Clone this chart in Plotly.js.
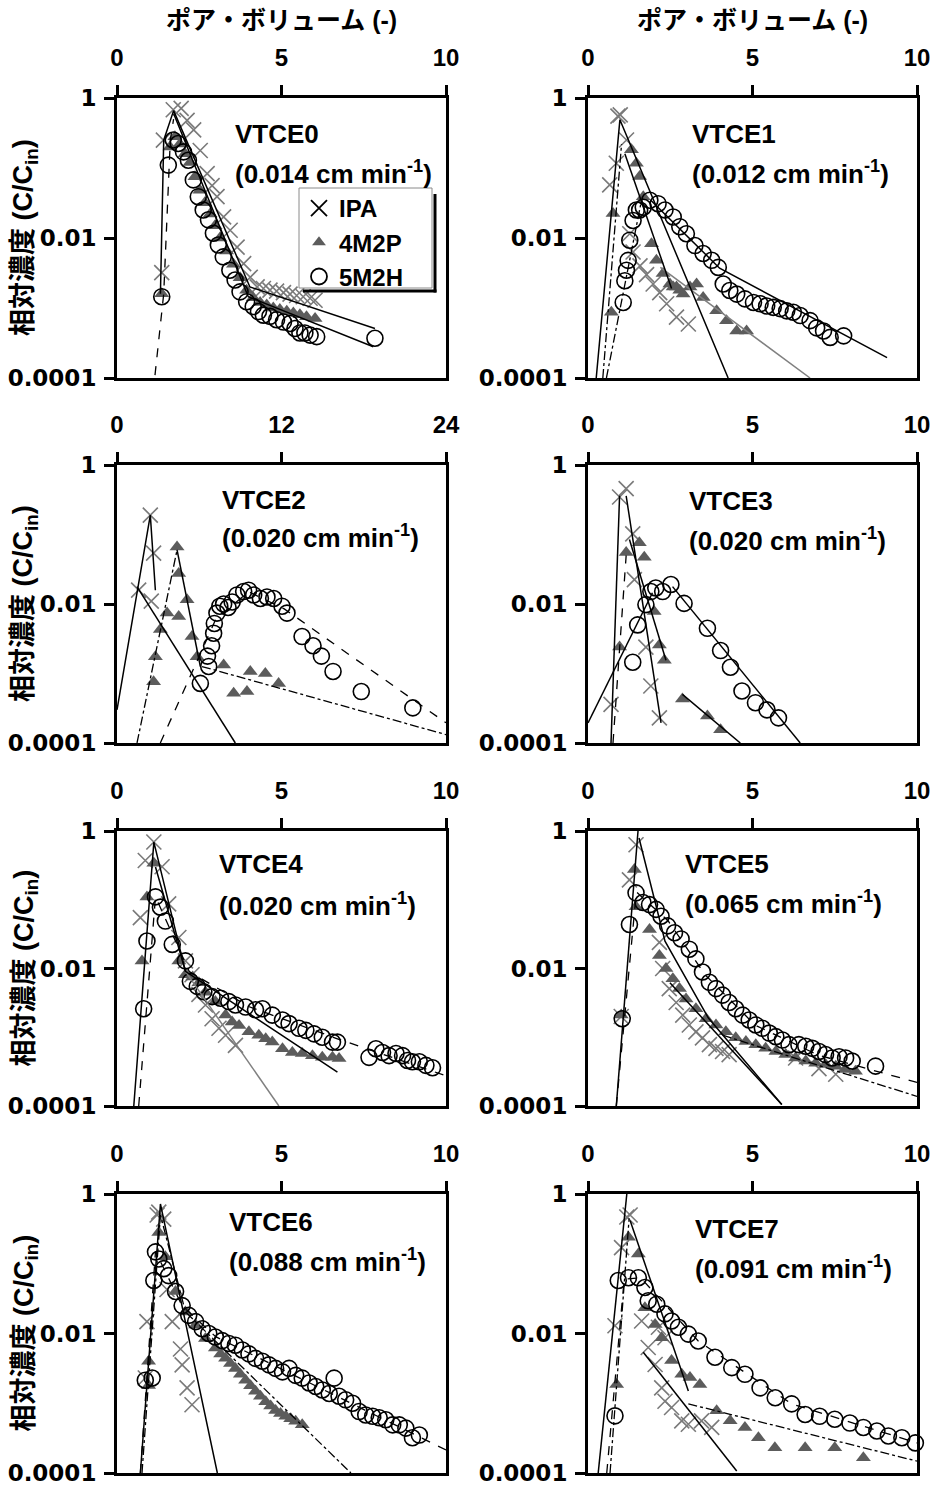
<!DOCTYPE html>
<html><head><meta charset="utf-8">
<script src="https://cdn.plot.ly/plotly-3.0.1.min.js"></script>
<style>html,body{margin:0;padding:0;background:#fff}#chart{width:937px;height:1488px}</style>
</head><body><div id="chart"></div>
<script>
// ---------------- DATA ----------------
const SERIES_NAMES = ['IPA', '4M2P', '5M2H'];
const PANEL_NAMES = ['VTCE0','VTCE1','VTCE2','VTCE3','VTCE4','VTCE5','VTCE6','VTCE7'];
const PANEL_SPEEDS = ['0.014','0.012','0.020','0.020','0.020','0.065','0.088','0.091'];
const PANEL_XMAX = [10, 10, 24, 10, 10, 10, 10, 10];
const PANEL_XTICKS = [[0,5,10],[0,5,10],[0,12,24],[0,5,10],[0,5,10],[0,5,10],[0,5,10],[0,5,10]];
const Y_TICKVALS = [1, 0.01, 0.0001];
const Y_TICKTEXT = ['1', '0.01', '0.0001'];
const X_TITLE = 'ポア・ボリューム (-)';
const Y_TITLE = '相対濃度 (C/C<sub>in</sub>)';

// VTCE0
const P0_IPA_X = [1.36,1.41,1.71,1.95,2.13,2.33,2.53,2.74,2.89,3.04,3.24,3.44,3.65,3.85,4.05,4.26,4.45,4.65,4.85,5.06,5.26,5.46,5.66,5.87,6.02];
const P0_IPA_Y = [0.0032,0.25,0.68,0.71,0.48,0.35,0.178,0.083,0.056,0.039,0.020,0.0129,0.0074,0.0043,0.00275,0.0020,0.0019,0.0018,0.00174,0.00166,0.00158,0.00151,0.00145,0.00138,0.00129];
const P0_M4_X = [1.36,1.61,1.76,1.91,2.07,2.22,2.37,2.52,2.67,2.83,2.98,3.13,3.33,3.54,3.74,3.94,4.14,4.35,4.55,4.75,4.95,5.16,5.36,5.56,5.76,6.02];
const P0_M4_Y = [0.0016,0.20,0.28,0.22,0.16,0.12,0.075,0.048,0.032,0.022,0.015,0.010,0.0065,0.0042,0.0027,0.0018,0.0014,0.0012,0.0011,0.0010,0.00095,0.0009,0.00085,0.0008,0.00075,0.00071];
const P0_M5_X = [1.36,1.56,1.71,1.86,2.02,2.17,2.32,2.47,2.62,2.78,2.93,3.08,3.23,3.43,3.59,3.74,3.94,4.14,4.30,4.45,4.65,4.85,5.06,5.26,5.41,5.56,5.71,5.87,6.07,7.84];
const P0_M5_Y = [0.00145,0.110,0.251,0.224,0.170,0.129,0.0676,0.0389,0.0251,0.0182,0.0117,0.00794,0.00537,0.00347,0.00251,0.00170,0.00123,0.00105,0.00089,0.00079,0.00076,0.00068,0.00063,0.00060,0.00051,0.00044,0.00044,0.00041,0.00039,0.00037];
const P0_SOLID_X = [1.32,1.42,1.72,4.04,7.84,null,1.72,3.99,7.79];
const P0_SOLID_Y = [0.0016,0.25,0.66,0.0020,0.00051,null,0.6,0.00145,0.00028];
const P0_DASH_X = [1.155,1.42,1.62,1.72];
const P0_DASH_Y = [0.00011,0.0016,0.25,0.5];
const P0_DASHDOT_X = [];
const P0_DASHDOT_Y = [];
const P0_GRAY_X = [];
const P0_GRAY_Y = [];

// VTCE1
const P1_IPA_X = [0.66,0.86,0.91,0.98,1.17,1.27,1.37,1.58,1.78,1.98,2.18,2.39,2.69,3.05];
const P1_IPA_Y = [0.0575,0.117,0.55,0.575,0.251,0.0115,0.0063,0.0040,0.0030,0.0022,0.00166,0.00115,0.00074,0.00059];
const P1_M4_X = [0.71,0.76,1.32,1.47,1.57,1.68,1.93,2.08,2.28,2.49,2.59,2.69,2.79,2.89,3.10,3.30,3.50,3.91,4.21,4.52,4.82];
const P1_M4_Y = [0.00087,0.0224,0.182,0.117,0.0759,0.0389,0.0083,0.0048,0.0031,0.0022,0.0020,0.0020,0.0018,0.00158,0.0020,0.0022,0.00141,0.00091,0.00066,0.00047,0.00047];
const P1_M5_X = [1.07,1.12,1.17,1.22,1.27,1.37,1.47,1.57,1.68,1.88,2.13,2.34,2.59,2.79,2.99,3.25,3.50,3.76,3.96,4.11,4.31,4.52,4.77,5.03,5.23,5.43,5.63,5.84,6.04,6.24,6.45,6.75,6.95,7.16,7.36,7.77];
const P1_M5_Y = [0.0012,0.00245,0.00347,0.00479,0.0093,0.0178,0.0251,0.0251,0.0275,0.0347,0.0309,0.0251,0.0200,0.0145,0.0115,0.0078,0.0060,0.0048,0.0038,0.0022,0.00178,0.00158,0.00135,0.0012,0.00115,0.00107,0.00102,0.00098,0.00091,0.00087,0.00078,0.00066,0.00052,0.00047,0.00038,0.00040];
const P1_SOLID_X = [0.25,0.97,4.26,null,1.12,2.54,null,1.9,4.0,9.09];
const P1_SOLID_Y = [0.0001,0.49,0.0001,null,0.16,0.0019,null,0.035,0.0037,0.000195];
const P1_DASH_X = [];
const P1_DASH_Y = [];
const P1_DASHDOT_X = [0.45,1.02,null,0.56,1.6];
const P1_DASHDOT_Y = [0.0001,0.22,null,0.0001,0.03];
const P1_GRAY_X = [2.2,6.75];
const P1_GRAY_Y = [0.0038,0.0001];

// VTCE2
const P2_IPA_X = [1.58,2.43,2.50,2.67];
const P2_IPA_Y = [0.0158,0.19,0.011,0.054];
const P2_M4_X = [2.67,2.80,3.16,3.65,4.38,4.50,4.50,5.11,5.47,5.84,7.78,8.51,9.48,9.72,10.82,11.79];
const P2_M4_Y = [0.00076,0.00174,0.0043,0.0074,0.066,0.0275,0.0066,0.0115,0.0034,0.00174,0.00132,0.00052,0.00055,0.00107,0.0010,0.00072];
const P2_M5_X = [6.08,6.60,6.69,6.90,7.05,7.10,7.29,7.50,7.78,8.10,8.40,8.75,9.24,9.60,9.97,10.46,10.94,11.43,12.04,12.40,13.50,14.30,14.91,15.76,17.82,21.58];
const P2_M5_Y = [0.00072,0.00178,0.00126,0.00251,0.0038,0.00525,0.0074,0.0093,0.0100,0.0089,0.0107,0.0135,0.0151,0.0158,0.0135,0.0120,0.0126,0.0120,0.0093,0.0074,0.0034,0.00251,0.00178,0.00107,0.00055,0.00032];
const P2_SOLID_X = [0,2.43,2.80,null,1.46,8.63,null,4.38,6.08];
const P2_SOLID_Y = [0.0003,0.19,0.0158,null,0.0178,0.0001,null,0.060,0.00126];
const P2_DASH_X = [3.16,7.2,9.6,12.2,24];
const P2_DASH_Y = [0.0001,0.006,0.015,0.0085,0.000195];
const P2_DASHDOT_X = [1.46,4.38,null,6.2,24];
const P2_DASHDOT_Y = [0.0001,0.060,null,0.00126,0.000132];
const P2_GRAY_X = [];
const P2_GRAY_Y = [];

// VTCE3
const P3_IPA_X = [0.70,0.96,1.16,1.36,1.41,1.76,1.91,2.17];
const P3_IPA_Y = [0.00036,0.347,0.457,0.102,0.0224,0.0024,0.00066,0.00023];
const P3_M4_X = [0.96,1.16,1.56,1.71,2.01,2.17,2.32,2.87,3.63,4.03];
const P3_M4_Y = [0.0024,0.055,0.076,0.047,0.0078,0.00257,0.00155,0.00043,0.000245,0.000155];
const P3_M5_X = [1.36,1.51,1.76,1.91,2.06,2.27,2.52,2.92,3.63,4.03,4.33,4.68,5.09,5.44,5.79];
const P3_M5_Y = [0.00145,0.0050,0.0098,0.0151,0.0170,0.0151,0.0191,0.0102,0.00447,0.00214,0.00123,0.00056,0.00038,0.0003,0.00023];
const P3_SOLID_X = [0.70,0.96,null,1.16,2.22,null,1.26,2.37,null,2.87,4.63,null,0,1.96,null,2.57,6.45];
const P3_SOLID_Y = [0.0001,0.36,null,0.36,0.000195,null,0.085,0.00155,null,0.0005,0.0001,null,0.000195,0.0145,null,0.0178,0.0001];
const P3_DASH_X = [0.76,1.16];
const P3_DASH_Y = [0.0001,0.05];
const P3_DASHDOT_X = [];
const P3_DASHDOT_Y = [];
const P3_GRAY_X = [];
const P3_GRAY_Y = [];

// VTCE4
const P4_IPA_X = [0.71,0.86,1.12,1.37,1.57,1.88,2.08,2.28,2.49,2.69,2.89,3.10,3.30,3.60];
const P4_IPA_Y = [0.055,0.372,0.692,0.302,0.087,0.0282,0.0129,0.0081,0.0042,0.00295,0.00186,0.00135,0.00107,0.00076];
const P4_M4_X = [0.76,0.91,1.12,1.88,2.08,2.30,2.49,2.69,2.99,3.30,3.50,3.71,4.01,4.31,4.52,4.72,5.03,5.33,5.63,5.94,6.24,6.55,6.75];
const P4_M4_Y = [0.0129,0.110,0.339,0.0129,0.0081,0.0075,0.0062,0.0045,0.0033,0.0021,0.00166,0.00148,0.0012,0.00107,0.00095,0.00085,0.00068,0.0006,0.00058,0.00054,0.00051,0.00051,0.00049];
const P4_M5_X = [0.81,0.91,1.17,1.32,1.47,1.68,2.08,2.23,2.44,2.64,2.89,3.15,3.40,3.60,3.91,4.21,4.42,4.72,5.03,5.23,5.53,5.74,5.99,6.24,6.55,6.70,7.66,7.87,8.07,8.27,8.48,8.68,8.83,8.98,9.19,9.39,9.59];
const P4_M5_Y = [0.0026,0.0251,0.110,0.078,0.049,0.0224,0.0129,0.0065,0.0055,0.0046,0.0039,0.0037,0.0033,0.00295,0.00275,0.00251,0.0026,0.0021,0.00178,0.00158,0.00135,0.00126,0.00112,0.0010,0.00085,0.00085,0.00051,0.00068,0.0006,0.00054,0.00058,0.00054,0.00046,0.00044,0.00044,0.00039,0.00036];
const P4_SOLID_X = [0.51,1.12,2.08,null,1.17,2.08,6.70];
const P4_SOLID_Y = [0.0001,0.69,0.0091,null,0.30,0.0091,0.00031];
const P4_DASH_X = [0.66,1.17,2.2,4.0,6.7,10];
const P4_DASH_Y = [0.0001,0.11,0.009,0.0028,0.00095,0.000275];
const P4_DASHDOT_X = [];
const P4_DASHDOT_Y = [];
const P4_GRAY_X = [2.08,4.92];
const P4_GRAY_Y = [0.0091,0.0001];

// VTCE5
const P5_IPA_X = [1.01,1.26,1.46,2.17,2.27,2.47,2.68,2.88,3.08,3.28,3.48,3.69,3.89,4.09,4.29,6.31,7.02,7.53];
const P5_IPA_Y = [0.0020,0.195,0.631,0.024,0.010,0.0051,0.0032,0.0021,0.00151,0.0012,0.00098,0.00078,0.00069,0.00062,0.00056,0.0005,0.00035,0.00029];
const P5_M4_X = [1.01,1.41,1.46,1.87,2.17,2.37,2.58,2.78,2.98,3.28,3.59,3.89,4.19,4.49,4.80,5.10,5.40,5.71,6.01,6.31,6.62,6.92,7.22,7.53,7.83,8.13];
const P5_M4_Y = [0.0021,0.275,0.079,0.037,0.0155,0.010,0.0071,0.0051,0.0036,0.0026,0.00186,0.00151,0.0012,0.00098,0.00087,0.00078,0.00069,0.00062,0.00056,0.0005,0.00045,0.00042,0.0004,0.00038,0.00034,0.00032];
const P5_M5_X = [1.04,1.26,1.46,1.67,1.87,2.07,2.22,2.42,2.63,2.83,3.08,3.28,3.48,3.69,3.89,4.09,4.29,4.49,4.70,4.90,5.10,5.30,5.51,5.71,5.91,6.11,6.41,6.62,6.82,7.02,7.22,7.42,7.63,7.83,8.03,8.74];
const P5_M5_Y = [0.00186,0.0437,0.126,0.091,0.085,0.0724,0.0575,0.0417,0.0331,0.0269,0.0191,0.0138,0.0089,0.0063,0.0051,0.0041,0.0032,0.0026,0.0021,0.00178,0.00151,0.00135,0.00115,0.00102,0.00091,0.00078,0.00078,0.00074,0.00069,0.00062,0.00056,0.0005,0.00052,0.0005,0.00045,0.00038];
const P5_SOLID_X = [0.86,1.52,null,2.49,5.89,null,1.55,2.34,3.66,5.89];
const P5_SOLID_Y = [0.0001,1.0,null,0.0062,0.000105,null,0.79,0.025,0.0019,0.000105];
const P5_DASH_X = [0.86,1.47,2.44,3.56,5.08,7.0,10];
const P5_DASH_Y = [0.0001,0.13,0.049,0.0081,0.0015,0.00055,0.00022];
const P5_DASHDOT_X = [4.09,10];
const P5_DASHDOT_Y = [0.00107,0.000138];
const P5_GRAY_X = [];
const P5_GRAY_Y = [];

// VTCE6
const P6_IPA_X = [0.86,0.91,1.22,1.27,1.42,1.52,1.68,1.93,1.98,2.13,2.28];
const P6_IPA_Y = [0.0023,0.0148,0.50,0.55,0.437,0.0427,0.0148,0.006,0.00355,0.00166,0.00095];
const P6_M4_X = [0.96,0.96,1.27,1.47,1.78,2.08,2.39,2.69,2.99,3.15,3.30,3.45,3.60,3.75,3.91,4.06,4.21,4.36,4.52,4.67,4.82,4.97,5.13,5.28,5.43,5.63];
const P6_M4_Y = [0.0040,0.0018,0.28,0.126,0.040,0.0204,0.0132,0.0085,0.0062,0.0051,0.0044,0.0037,0.00316,0.0026,0.00214,0.00178,0.00148,0.00126,0.00105,0.00091,0.00079,0.00071,0.00065,0.0006,0.00055,0.00049];
const P6_M5_X = [0.86,1.07,1.12,1.17,1.27,1.42,1.57,1.78,1.98,2.18,2.39,2.59,2.79,2.99,3.20,3.40,3.60,3.81,4.01,4.21,4.42,4.62,4.82,5.03,5.23,5.43,5.63,5.84,6.04,6.24,6.45,6.60,6.75,6.95,7.16,7.36,7.56,7.77,7.97,8.17,8.38,8.58,8.78,8.98,9.19];
const P6_M5_Y = [0.00214,0.0023,0.0575,0.148,0.117,0.085,0.0676,0.040,0.0251,0.0182,0.0148,0.0117,0.010,0.0089,0.0079,0.0072,0.0068,0.0058,0.0051,0.0044,0.0040,0.00355,0.00316,0.00282,0.00316,0.00251,0.00229,0.00195,0.00174,0.00155,0.00138,0.00229,0.00126,0.00112,0.0010,0.00076,0.00068,0.00065,0.00062,0.00058,0.00049,0.00049,0.00044,0.00032,0.00035];
const P6_SOLID_X = [0.71,1.32,3.05];
const P6_SOLID_Y = [0.0001,0.72,0.0001];
const P6_DASH_X = [0.71,1.17,1.98,3.0,10];
const P6_DASH_Y = [0.0001,0.15,0.025,0.009,0.000214];
const P6_DASHDOT_X = [0.76,1.32,2.08,7.11];
const P6_DASHDOT_Y = [0.0001,0.5,0.0204,0.0001];
const P6_GRAY_X = [];
const P6_GRAY_Y = [];

// VTCE7
const P7_IPA_X = [0.82,1.02,1.18,1.28,1.63,1.83,2.04,2.14,2.24,2.34,2.34,2.54,2.85,3.05,3.45,3.76];
const P7_IPA_Y = [0.0129,0.17,0.468,0.50,0.0151,0.0063,0.0036,0.0123,0.00166,0.0087,0.00107,0.00087,0.00056,0.0005,0.00056,0.00045];
const P7_M4_X = [0.87,1.23,1.53,1.73,2.04,2.24,2.54,2.85,3.10,3.40,3.91,4.32,4.77,5.18,5.68,6.60,7.50,8.37];
const P7_M4_Y = [0.00186,0.24,0.138,0.0234,0.0135,0.0087,0.0041,0.0026,0.00234,0.00186,0.00078,0.00056,0.00045,0.00032,0.00023,0.00023,0.00023,0.000166];
const P7_M5_X = [0.82,0.92,1.23,1.53,1.73,1.83,2.09,2.34,2.54,2.75,3.05,3.35,3.86,4.37,4.77,5.23,5.69,6.19,6.60,7.04,7.50,7.96,8.37,8.78,9.13,9.54,9.95];
const P7_M5_Y = [0.00066,0.0575,0.063,0.063,0.0457,0.0295,0.0263,0.0191,0.0151,0.0123,0.0098,0.0078,0.00457,0.00324,0.0026,0.00166,0.0012,0.00098,0.00069,0.00065,0.00059,0.00052,0.00045,0.0004,0.00034,0.00032,0.00027];
const P7_SOLID_X = [0.31,1.18,null,1.68,4.52,null,1.28,3.05];
const P7_SOLID_Y = [0.0001,1.0,null,0.0054,0.000107,null,0.417,0.0015];
const P7_DASH_X = [0.57,1.1,1.6,3.35,6.19,10];
const P7_DASH_Y = [0.0001,0.06,0.063,0.0078,0.00098,0.00027];
const P7_DASHDOT_X = [0.67,1.25,null,3.05,10];
const P7_DASHDOT_Y = [0.0001,0.45,null,0.00098,0.000148];
const P7_GRAY_X = [];
const P7_GRAY_Y = [];

// ---------------- assembly ----------------
const PANELS = [
  {ipa:[P0_IPA_X,P0_IPA_Y], m4:[P0_M4_X,P0_M4_Y], m5:[P0_M5_X,P0_M5_Y], solid:[P0_SOLID_X,P0_SOLID_Y], dash:[P0_DASH_X,P0_DASH_Y], dashdot:[P0_DASHDOT_X,P0_DASHDOT_Y], gray:[P0_GRAY_X,P0_GRAY_Y]},
  {ipa:[P1_IPA_X,P1_IPA_Y], m4:[P1_M4_X,P1_M4_Y], m5:[P1_M5_X,P1_M5_Y], solid:[P1_SOLID_X,P1_SOLID_Y], dash:[P1_DASH_X,P1_DASH_Y], dashdot:[P1_DASHDOT_X,P1_DASHDOT_Y], gray:[P1_GRAY_X,P1_GRAY_Y]},
  {ipa:[P2_IPA_X,P2_IPA_Y], m4:[P2_M4_X,P2_M4_Y], m5:[P2_M5_X,P2_M5_Y], solid:[P2_SOLID_X,P2_SOLID_Y], dash:[P2_DASH_X,P2_DASH_Y], dashdot:[P2_DASHDOT_X,P2_DASHDOT_Y], gray:[P2_GRAY_X,P2_GRAY_Y]},
  {ipa:[P3_IPA_X,P3_IPA_Y], m4:[P3_M4_X,P3_M4_Y], m5:[P3_M5_X,P3_M5_Y], solid:[P3_SOLID_X,P3_SOLID_Y], dash:[P3_DASH_X,P3_DASH_Y], dashdot:[P3_DASHDOT_X,P3_DASHDOT_Y], gray:[P3_GRAY_X,P3_GRAY_Y]},
  {ipa:[P4_IPA_X,P4_IPA_Y], m4:[P4_M4_X,P4_M4_Y], m5:[P4_M5_X,P4_M5_Y], solid:[P4_SOLID_X,P4_SOLID_Y], dash:[P4_DASH_X,P4_DASH_Y], dashdot:[P4_DASHDOT_X,P4_DASHDOT_Y], gray:[P4_GRAY_X,P4_GRAY_Y]},
  {ipa:[P5_IPA_X,P5_IPA_Y], m4:[P5_M4_X,P5_M4_Y], m5:[P5_M5_X,P5_M5_Y], solid:[P5_SOLID_X,P5_SOLID_Y], dash:[P5_DASH_X,P5_DASH_Y], dashdot:[P5_DASHDOT_X,P5_DASHDOT_Y], gray:[P5_GRAY_X,P5_GRAY_Y]},
  {ipa:[P6_IPA_X,P6_IPA_Y], m4:[P6_M4_X,P6_M4_Y], m5:[P6_M5_X,P6_M5_Y], solid:[P6_SOLID_X,P6_SOLID_Y], dash:[P6_DASH_X,P6_DASH_Y], dashdot:[P6_DASHDOT_X,P6_DASHDOT_Y], gray:[P6_GRAY_X,P6_GRAY_Y]},
  {ipa:[P7_IPA_X,P7_IPA_Y], m4:[P7_M4_X,P7_M4_Y], m5:[P7_M5_X,P7_M5_Y], solid:[P7_SOLID_X,P7_SOLID_Y], dash:[P7_DASH_X,P7_DASH_Y], dashdot:[P7_DASHDOT_X,P7_DASHDOT_Y], gray:[P7_GRAY_X,P7_GRAY_Y]}
];

const W = 937, H = 1488;
const COLS = [[117, 446], [588, 917]];          // px left/right of plot boxes
const ROWS = [[98, 378], [465, 743], [831, 1106], [1194, 1473]]; // px top/bottom
const LABEL_POS = [[233,134,173],[690,134,173],[220,500,537],[687,501,539],[217,864,904],[683,864,903],[227,1222,1260],[693,1229,1267]];
const LEGEND_BOX = [299, 188, 432, 288];         // px left, top, right, bottom

const LAT = 'Liberation Sans, Arial, Noto Sans CJK JP, sans-serif';
const CJK = 'Liberation Sans, Noto Sans CJK JP, sans-serif';
const YT = 'DejaVu Sans, Liberation Sans, sans-serif';
const C_IPA = '#7a7a7a', C_TRI = '#5c5c5c';
const px = v => v / W, py = v => 1 - v / H;
const bold = s => '<b>' + s + '</b>';

const traces = [];
const layout = {
  width: W, height: H, margin: {l:0, r:0, t:0, b:0},
  paper_bgcolor: '#fff', plot_bgcolor: '#fff',
  showlegend: true,
  legend: {x: px(LEGEND_BOX[0]), y: py(LEGEND_BOX[1] - 2), xanchor:'left', yanchor:'top', bgcolor:'rgba(0,0,0,0)', borderwidth:0,
           font:{family:LAT, size:24, color:'#000'}, itemwidth:30, tracegroupgap:0},
  annotations: [],
  shapes: [
    // legend frame (white box, thin gray border) and its black drop shadow
    {type:'rect', xref:'paper', yref:'paper', layer:'above', x0:px(LEGEND_BOX[0]), x1:px(LEGEND_BOX[2]), y0:py(LEGEND_BOX[1]), y1:py(LEGEND_BOX[3]),
     fillcolor:'#fff', line:{color:'#8a8a8a', width:1}},
    {type:'line', xref:'paper', yref:'paper', layer:'above', x0:px(LEGEND_BOX[2]+3), x1:px(LEGEND_BOX[2]+3), y0:py(LEGEND_BOX[1]+6), y1:py(LEGEND_BOX[3]+4.5),
     line:{color:'#000', width:3}},
    {type:'line', xref:'paper', yref:'paper', layer:'above', x0:px(LEGEND_BOX[0]+4), x1:px(LEGEND_BOX[2]+4.5), y0:py(LEGEND_BOX[3]+3), y1:py(LEGEND_BOX[3]+3),
     line:{color:'#000', width:3}}
  ]
};

PANELS.forEach((p, i) => {
  const k = i + 1, sfx = i === 0 ? '' : String(k);
  const xa = 'x' + sfx, ya = 'y' + sfx;
  const col = i % 2, row = Math.floor(i / 2);
  layout['xaxis' + sfx] = {
    domain: [px(COLS[col][0]), px(COLS[col][1])], anchor: ya, side: 'top',
    range: [0, PANEL_XMAX[i]], tickvals: PANEL_XTICKS[i], ticktext: PANEL_XTICKS[i].map(v => bold(String(v))),
    ticks: 'outside', ticklen: 10, tickwidth: 3, tickcolor: '#000',
    showline: true, linewidth: 3, linecolor: '#000', mirror: true, showgrid: false, zeroline: false,
    tickfont: {family: LAT, size: 24, color: '#000'}, ticklabelstandoff: 9, fixedrange: true
  };
  layout['yaxis' + sfx] = {
    domain: [py(ROWS[row][1]), py(ROWS[row][0])], anchor: xa, type: 'log', range: [-4, 0],
    tickvals: Y_TICKVALS, ticktext: Y_TICKTEXT.map(bold), ticks: 'outside', ticklen: 10, tickwidth: 3, tickcolor: '#000',
    showline: true, linewidth: 3, linecolor: '#000', mirror: true, showgrid: false, zeroline: false,
    tickfont: {family: YT, size: 23, color: '#000'}, ticklabelstandoff: 3, fixedrange: true
  };
  // measured points
  traces.push({type:'scatter', mode:'markers', x:p.ipa[0], y:p.ipa[1], xaxis:xa, yaxis:ya, showlegend:false, cliponaxis:false,
    marker:{symbol:'x-thin-open', size:15, color:C_IPA, line:{width:1.6, color:C_IPA}}});
  traces.push({type:'scatter', mode:'markers', x:p.m4[0], y:p.m4[1], xaxis:xa, yaxis:ya, showlegend:false, cliponaxis:false,
    marker:{symbol:'triangle-up', size:13, color:C_TRI, line:{width:0}}});
  traces.push({type:'scatter', mode:'markers', x:p.m5[0], y:p.m5[1], xaxis:xa, yaxis:ya, showlegend:false, cliponaxis:false,
    marker:{symbol:'circle-open', size:16, color:'#000', line:{width:1.6, color:'#000'}}});
  // fitted lines
  const lineDefs = [
    [p.gray, {color:'#808080', width:1.5, dash:'solid'}],
    [p.solid, {color:'#000', width:1.5, dash:'solid'}],
    [p.dash, {color:'#000', width:1.3, dash:'dash'}],
    [p.dashdot, {color:'#000', width:1.3, dash:'dashdot'}]
  ];
  lineDefs.forEach(([d, ln]) => {
    if (d[0].length) traces.push({type:'scatter', mode:'lines', x:d[0], y:d[1], xaxis:xa, yaxis:ya, showlegend:false,
      connectgaps:false, line:ln, hoverinfo:'skip'});
  });
  // panel labels
  const lp = LABEL_POS[i];
  layout.annotations.push({xref:'paper', yref:'paper', x:px(lp[0]), y:py(lp[1]), xanchor:'left', yanchor:'middle', showarrow:false,
    text:bold(PANEL_NAMES[i]), font:{family:LAT, size:26, color:'#000'}});
  layout.annotations.push({xref:'paper', yref:'paper', x:px(lp[0]), y:py(lp[2]), xanchor:'left', yanchor:'middle', showarrow:false,
    text:bold('(' + PANEL_SPEEDS[i] + ' cm min<sup>-1</sup>)'), font:{family:LAT, size:26, color:'#000'}});
  // y titles on the left column
  if (col === 0) {
    layout.annotations.push({xref:'paper', yref:'paper', x:px(25), y:py((ROWS[row][0]+ROWS[row][1])/2), xanchor:'center', yanchor:'middle',
      showarrow:false, textangle:-90, text:bold(Y_TITLE), font:{family:CJK, size:27, color:'#000'}});
  }
  // top x titles on the first row
  if (row === 0) {
    layout.annotations.push({xref:'paper', yref:'paper', x:px((COLS[col][0]+COLS[col][1])/2), y:py(20), xanchor:'center', yanchor:'middle',
      showarrow:false, text:bold(X_TITLE), font:{family:CJK, size:25, color:'#000'}});
  }
});

// legend entries (legend-only traces, black symbols as in the reference legend)
traces.push({type:'scatter', mode:'markers', x:[null], y:[null], xaxis:'x', yaxis:'y', name:bold(SERIES_NAMES[0]),
  marker:{symbol:'x-thin-open', size:16, color:'#000', line:{width:1.8, color:'#000'}}});
traces.push({type:'scatter', mode:'markers', x:[null], y:[null], xaxis:'x', yaxis:'y', name:bold(SERIES_NAMES[1]),
  marker:{symbol:'triangle-up', size:12, color:C_TRI, line:{width:0}}});
traces.push({type:'scatter', mode:'markers', x:[null], y:[null], xaxis:'x', yaxis:'y', name:bold(SERIES_NAMES[2]),
  marker:{symbol:'circle-open', size:16, color:'#000', line:{width:1.8, color:'#000'}}});

Plotly.newPlot('chart', traces, layout, {staticPlot:true, displayModeBar:false});
</script></body></html>
